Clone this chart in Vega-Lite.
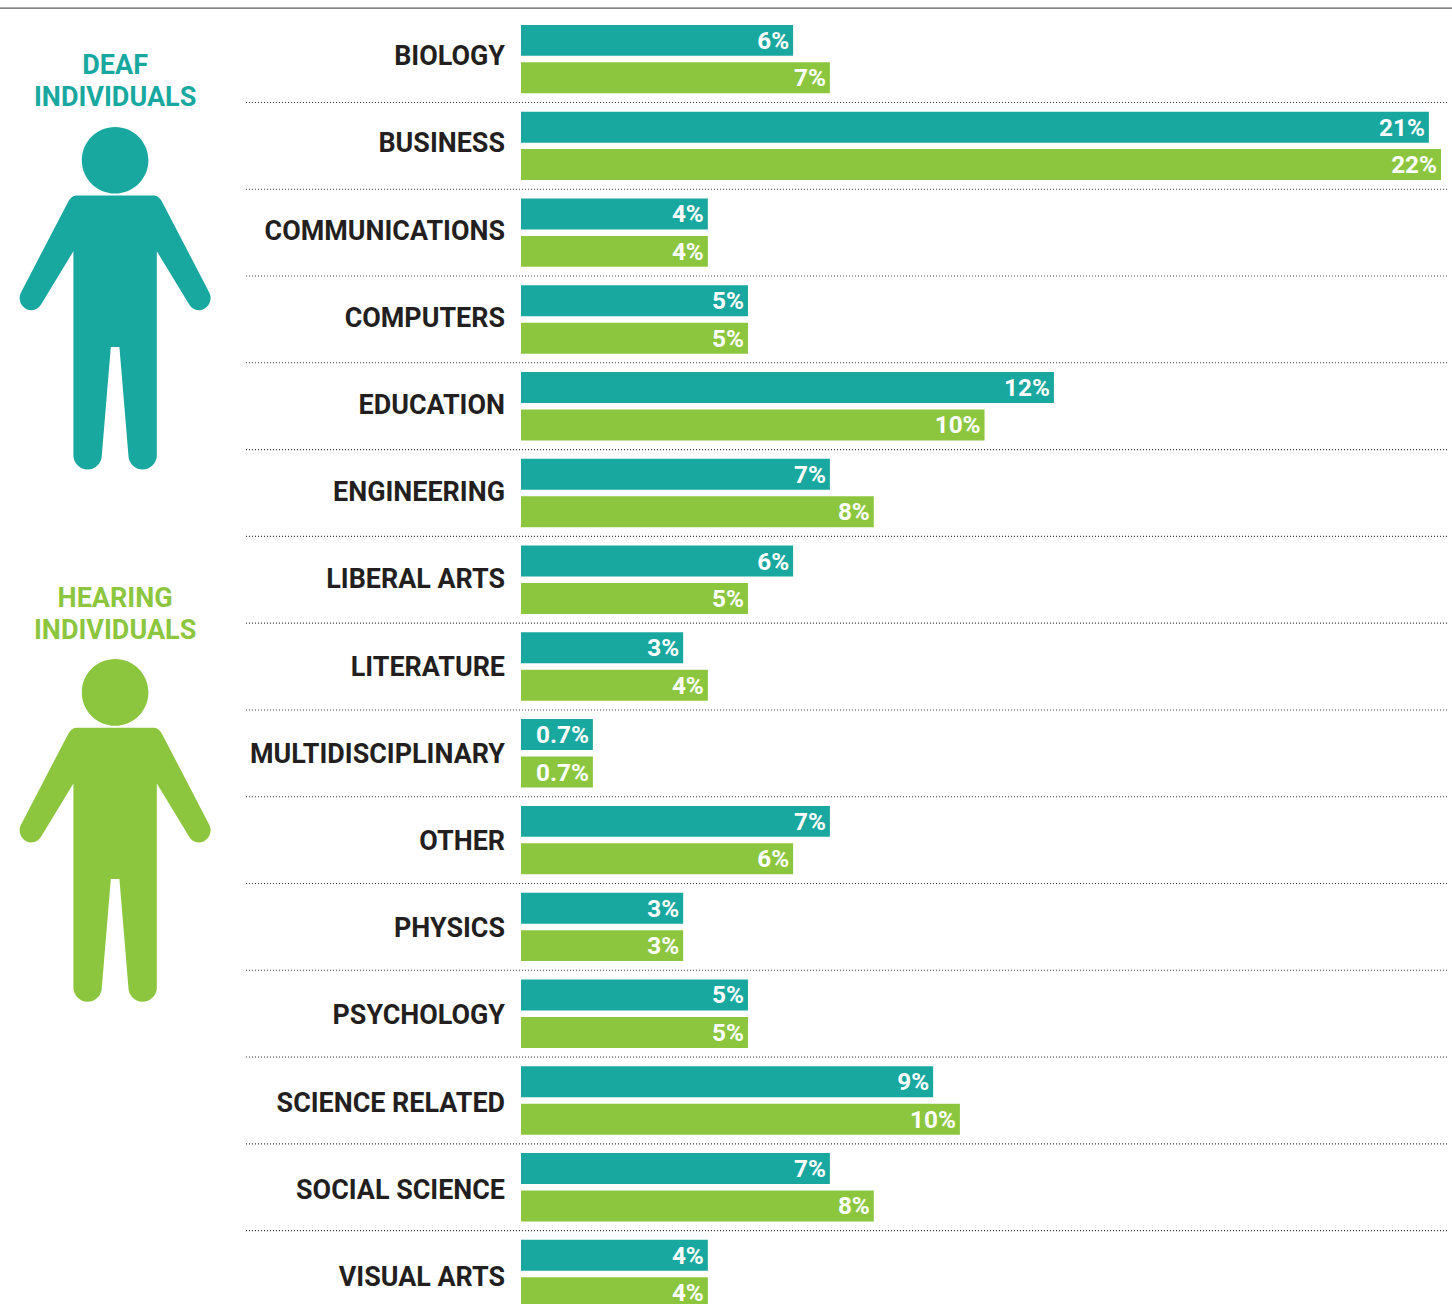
{
"$schema":"https://vega.github.io/schema/vega-lite/v6.json",
"width":1452,"height":1304,"padding":0,"autosize":{"type":"none"},
"background":"#ffffff",
"config":{"view":{"stroke":null},"text":{"font":"Roboto","fontWeight":"bold"}},
"datasets":{
"bars":[
{"field":"BIOLOGY","series":"Deaf","value":6.51,"label":"6%"},{"field":"BIOLOGY","series":"Hearing","value":7.39,"label":"7%"},
{"field":"BUSINESS","series":"Deaf","value":21.72,"label":"21%"},{"field":"BUSINESS","series":"Hearing","value":22.01,"label":"22%"},
{"field":"COMMUNICATIONS","series":"Deaf","value":4.47,"label":"4%"},{"field":"COMMUNICATIONS","series":"Hearing","value":4.47,"label":"4%"},
{"field":"COMPUTERS","series":"Deaf","value":5.43,"label":"5%"},{"field":"COMPUTERS","series":"Hearing","value":5.43,"label":"5%"},
{"field":"EDUCATION","series":"Deaf","value":12.75,"label":"12%"},{"field":"EDUCATION","series":"Hearing","value":11.09,"label":"10%"},
{"field":"ENGINEERING","series":"Deaf","value":7.39,"label":"7%"},{"field":"ENGINEERING","series":"Hearing","value":8.44,"label":"8%"},
{"field":"LIBERAL ARTS","series":"Deaf","value":6.51,"label":"6%"},{"field":"LIBERAL ARTS","series":"Hearing","value":5.43,"label":"5%"},
{"field":"LITERATURE","series":"Deaf","value":3.88,"label":"3%"},{"field":"LITERATURE","series":"Hearing","value":4.47,"label":"4%"},
{"field":"MULTIDISCIPLINARY","series":"Deaf","value":1.72,"label":"0.7%"},{"field":"MULTIDISCIPLINARY","series":"Hearing","value":1.72,"label":"0.7%"},
{"field":"OTHER","series":"Deaf","value":7.39,"label":"7%"},{"field":"OTHER","series":"Hearing","value":6.51,"label":"6%"},
{"field":"PHYSICS","series":"Deaf","value":3.88,"label":"3%"},{"field":"PHYSICS","series":"Hearing","value":3.88,"label":"3%"},
{"field":"PSYCHOLOGY","series":"Deaf","value":5.43,"label":"5%"},{"field":"PSYCHOLOGY","series":"Hearing","value":5.43,"label":"5%"},
{"field":"SCIENCE RELATED","series":"Deaf","value":9.86,"label":"9%"},{"field":"SCIENCE RELATED","series":"Hearing","value":10.5,"label":"10%"},
{"field":"SOCIAL SCIENCE","series":"Deaf","value":7.39,"label":"7%"},{"field":"SOCIAL SCIENCE","series":"Hearing","value":8.44,"label":"8%"},
{"field":"VISUAL ARTS","series":"Deaf","value":4.47,"label":"4%"},{"field":"VISUAL ARTS","series":"Hearing","value":4.47,"label":"4%"}
],
"rows":[
{"field":"BIOLOGY"},{"field":"BUSINESS"},{"field":"COMMUNICATIONS"},{"field":"COMPUTERS"},{"field":"EDUCATION"},{"field":"ENGINEERING"},{"field":"LIBERAL ARTS"},{"field":"LITERATURE"},{"field":"MULTIDISCIPLINARY"},{"field":"OTHER"},{"field":"PHYSICS"},{"field":"PSYCHOLOGY"},{"field":"SCIENCE RELATED"},{"field":"SOCIAL SCIENCE"},{"field":"VISUAL ARTS"}
]
},
"resolve":{"scale":{"y":"independent"}},
"layer":[
{
"encoding":{
"y":{"field":"field","type":"nominal","axis":null,"sort":null,
"scale":{"domain":["BIOLOGY","BUSINESS","COMMUNICATIONS","COMPUTERS","EDUCATION","ENGINEERING","LIBERAL ARTS","LITERATURE","MULTIDISCIPLINARY","OTHER","PHYSICS","PSYCHOLOGY","SCIENCE RELATED","SOCIAL SCIENCE","VISUAL ARTS"],"range":[15.7,1317.4],"paddingInner":0,"paddingOuter":0}}
},
"layer":[
{"data":{"name":"rows"},"transform":[{"filter":"datum.field !== 'VISUAL ARTS'"}],
 "mark":{"type":"rule","color":"#333333","strokeWidth":1.1,"strokeDash":[1,2]},
 "encoding":{"y":{"field":"field","type":"nominal","bandPosition":1},"x":{"datum":-6.58,"type":"quantitative","axis":null,"scale":{"domain":[-12.464,22.273],"range":[0,1452],"nice":false,"zero":false}},"x2":{"datum":22.18}}},
{"data":{"values":[{"field":"BIOLOGY"}]},
 "mark":{"type":"rule","color":"#58595b","strokeWidth":1.3},
 "encoding":{"y":{"field":"field","type":"nominal","bandPosition":-0.088},"x":{"datum":-12.464,"type":"quantitative"},"x2":{"datum":22.273}}},
{"data":{"name":"bars"},
 "mark":{"type":"bar","cornerRadius":0},
 "encoding":{
  "x":{"field":"value","type":"quantitative"},
  "x2":{"datum":0},
  "yOffset":{"field":"series","type":"nominal","scale":{"domain":["Deaf","Hearing"],"paddingInner":0.173,"paddingOuter":0.245}},
  "color":{"field":"series","type":"nominal","legend":null,"scale":{"domain":["Deaf","Hearing"],"range":["#19a89f","#8cc63f"]}}
 }},
{"data":{"name":"bars"},
 "mark":{"type":"text","align":"right","baseline":"middle","dx":-4,"dy":1.5,"fontSize":24.3,"color":"#ffffff"},
 "encoding":{
  "x":{"field":"value","type":"quantitative"},
  "yOffset":{"field":"series","type":"nominal","scale":{"domain":["Deaf","Hearing"],"paddingInner":0.173,"paddingOuter":0.245}},
  "text":{"field":"label"}
 }},
{"data":{"values":[{"title":["DEAF","INDIVIDUALS"]}]},
 "mark":{"type":"text","align":"center","baseline":"middle","fontSize":27,"lineHeight":32,"color":"#19a89f"},
 "encoding":{"x":{"datum":-9.71,"type":"quantitative"},"y":{"datum":"BIOLOGY","type":"nominal","bandPosition":0.585},"text":{"field":"title"}}},
{"data":{"values":[{"title":["HEARING","INDIVIDUALS"]}]},
 "mark":{"type":"text","align":"center","baseline":"middle","fontSize":27,"lineHeight":32,"color":"#8cc63f"},
 "encoding":{"x":{"datum":-9.71,"type":"quantitative"},"y":{"datum":"LIBERAL ARTS","type":"nominal","bandPosition":0.718},"text":{"field":"title"}}},
{"data":{"values":[{"series":"Deaf"}]},
 "mark":{"type":"point","filled":true,"opacity":1,"size":4,"color":"#19a89f","shape":"M-33.3,-138.5A33.3,33.3 0 1,1 33.3,-138.5A33.3,33.3 0 1,1 -33.3,-138.5ZM-39,-103.2L39,-103.2Q44,-103.2 47.7,-95.5L94,-6.5C98.5,2 92,11.5 84,11.5C79,11.5 75.5,8.5 73.3,4.5L41.7,-47.5L41.7,156.5C41.7,164.4 35.3,170.8 27.5,170.8C19.7,170.8 13.3,164.4 13.3,156.5L4.3,48.2L-4.3,48.2L-13.3,156.5C-13.3,164.4 -19.7,170.8 -27.5,170.8C-35.3,170.8 -41.7,164.4 -41.7,156.5L-41.7,-47.5L-73.3,4.5C-75.5,8.5 -79,11.5 -84,11.5C-92,11.5 -98.5,2 -94,-6.5L-47.7,-95.5Q-44,-103.2 -39,-103.2Z"},
 "encoding":{"x":{"datum":-9.71,"type":"quantitative"},"y":{"datum":"COMPUTERS","type":"nominal","bandPosition":0.261}}},
{"data":{"values":[{"series":"Hearing"}]},
 "mark":{"type":"point","filled":true,"opacity":1,"size":4,"color":"#8cc63f","shape":"M-33.3,-138.5A33.3,33.3 0 1,1 33.3,-138.5A33.3,33.3 0 1,1 -33.3,-138.5ZM-39,-103.2L39,-103.2Q44,-103.2 47.7,-95.5L94,-6.5C98.5,2 92,11.5 84,11.5C79,11.5 75.5,8.5 73.3,4.5L41.7,-47.5L41.7,156.5C41.7,164.4 35.3,170.8 27.5,170.8C19.7,170.8 13.3,164.4 13.3,156.5L4.3,48.2L-4.3,48.2L-13.3,156.5C-13.3,164.4 -19.7,170.8 -27.5,170.8C-35.3,170.8 -41.7,164.4 -41.7,156.5L-41.7,-47.5L-73.3,4.5C-75.5,8.5 -79,11.5 -84,11.5C-92,11.5 -98.5,2 -94,-6.5L-47.7,-95.5Q-44,-103.2 -39,-103.2Z"},
 "encoding":{"x":{"datum":-9.71,"type":"quantitative"},"y":{"datum":"OTHER","type":"nominal","bandPosition":0.394}}}
]
},
{"data":{"name":"rows"},
 "mark":{"type":"text","align":"right","baseline":"middle","dx":-16,"fontSize":26.9,"color":"#231f20"},
 "encoding":{"x":{"datum":0,"type":"quantitative"},
 "y":{"field":"field","type":"nominal","axis":null,"sort":null,"scale":{"domain":["BIOLOGY","BUSINESS","COMMUNICATIONS","COMPUTERS","EDUCATION","ENGINEERING","LIBERAL ARTS","LITERATURE","MULTIDISCIPLINARY","OTHER","PHYSICS","PSYCHOLOGY","SCIENCE RELATED","SOCIAL SCIENCE","VISUAL ARTS"],"range":[13.5,1321.5],"paddingInner":0,"paddingOuter":0}},
 "text":{"field":"field"}}}
]
}
